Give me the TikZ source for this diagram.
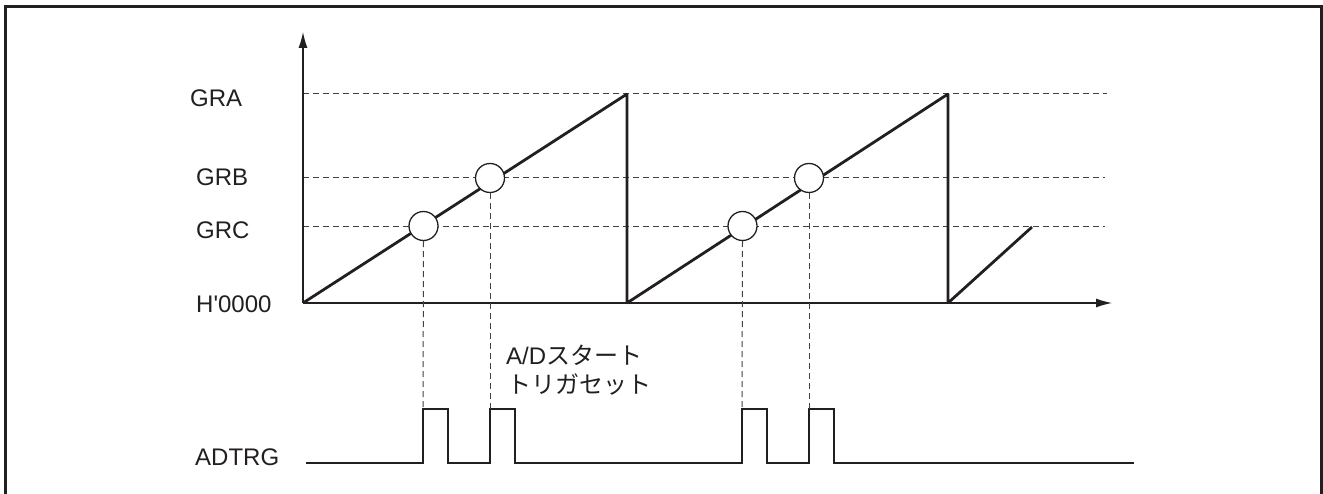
\documentclass[tikz,border=0pt]{standalone}
\usepackage{fontspec}
\setmainfont{Liberation Sans}
\newfontfamily\cjk{Noto Sans CJK JP}
\usetikzlibrary{arrows.meta}
\definecolor{ink}{HTML}{231F20}
\begin{document}
\begin{tikzpicture}[x=1pt,y=-1pt,
  lbl/.style={anchor=base west, inner sep=0pt, font=\fontsize{24}{29}\selectfont, text=ink},
  axisline/.style={draw=ink, line width=1.2pt, -{Latex[length=16pt,width=9pt]}},
  ramp/.style={draw=ink, line width=2.8pt, line join=bevel},
  guide/.style={draw=ink!85, line width=1pt, dash pattern=on 6pt off 4pt},
  markcirc/.style={circle, draw=ink, line width=1.3pt, fill=white, minimum size=29pt, inner sep=0pt},
  pulse/.style={draw=ink, line width=2.8pt, line join=miter}]
\useasboundingbox (0,0) rectangle (1323,494);
% frame
\draw[ink, line width=3pt] (5,500) -- (5,7) -- (1321,7) -- (1321,500);

% coordinates
\coordinate (O) at (303,303);
\coordinate (ytop) at (303,32);
\coordinate (xend) at (1112,303);
\coordinate (aL) at (303,94);  \coordinate (aR) at (1107,94);
\coordinate (bL) at (303,178); \coordinate (bR) at (1105,178);
\coordinate (cL) at (303,227); \coordinate (cR) at (1105,227);
\coordinate (r1top) at (627,94);  \coordinate (r1bot) at (627,303);
\coordinate (r2top) at (948,94);  \coordinate (r2bot) at (948,303);
\coordinate (r3end) at (1032,227);

% level guides
\draw[guide] (aL) -- (aR);
\draw[guide] (bL) -- (bR);
\draw[guide] (cL) -- (cR);

% axes
\draw[axisline] (O) -- (ytop);
\draw[axisline] (O) -- (xend);

% sawtooth
\draw[ramp] (O) -- (r1top) -- (r1bot) -- (r2top) -- (r2bot) -- (r3end);

% pulse train
\coordinate (s0) at (306,463);
\coordinate (p1u) at (423,409); \coordinate (p1d) at (448,409);
\coordinate (p2u) at (490,409); \coordinate (p2d) at (515,409);
\coordinate (p3u) at (742,409); \coordinate (p3d) at (767,409);
\coordinate (p4u) at (809,409); \coordinate (p4d) at (834,409);
\coordinate (s1) at (1134,463);
\draw[pulse] (s0) -- (p1u |- s0) -- (p1u) -- (p1d) -- (p1d |- s0)
  -- (p2u |- s0) -- (p2u) -- (p2d) -- (p2d |- s0)
  -- (p3u |- s0) -- (p3u) -- (p3d) -- (p3d |- s0)
  -- (p4u |- s0) -- (p4u) -- (p4d) -- (p4d |- s0) -- (s1);

% compare-match circles
\node[markcirc] (c1) at (423.5,226) {};
\node[markcirc] (c2) at (490,178) {};
\node[markcirc] (c3) at (742.5,226) {};
\node[markcirc] (c4) at (809,178) {};

% drop lines
\draw[guide] (c1.south) -- (p1u);
\draw[guide] (c2.south) -- (p2u);
\draw[guide] (c3.south) -- (p3u);
\draw[guide] (c4.south) -- (p4u);

% labels
\node[lbl] (gra) at (190,107) {GRA};
\node[lbl] (grb) at (196,186) {GRB};
\node[lbl] (grc) at (196,239) {GRC};
\node[lbl] (h0) at (196,313) {H\textquotesingle 0000};
\node[lbl] (adtrg) at (195,465) {ADTRG};
\node[lbl] (note1) at (506,365) {A/D{\cjk スタート}};
\node[lbl] (note2) at (507,393) {{\cjk トリガセット}};
\end{tikzpicture}
\end{document}
